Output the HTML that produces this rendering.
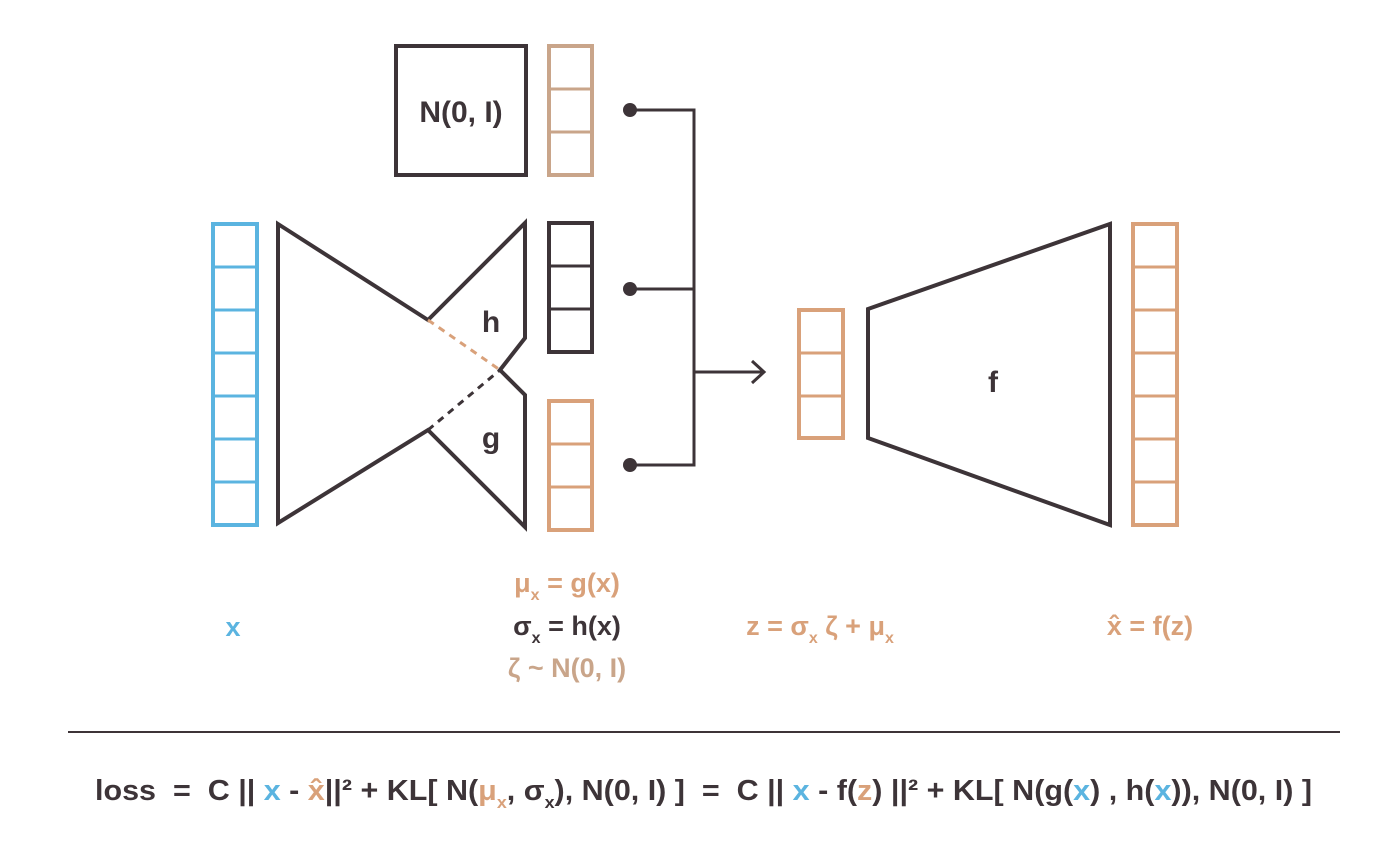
<!DOCTYPE html>
<html><head><meta charset="utf-8"><style>
html,body{margin:0;padding:0;background:#fff}
svg{display:block}
text{font-family:"Liberation Sans",sans-serif;font-weight:bold;white-space:pre}
</style></head><body>
<svg width="1400" height="843" viewBox="0 0 1400 843">
<g fill="none" stroke-width="4">
<g stroke="#5bb4e0">
<rect x="213" y="224" width="44" height="301"/>
<path d="M213 267H257M213 310H257M213 353H257M213 396H257M213 439H257M213 482H257" stroke-width="3"/>
</g>
<polygon stroke="#3d3438" points="278,224 428,320 525,223 525,338 500,370 525,395 525,527 428,430 278,523"/>
<line x1="428" y1="320" x2="500" y2="370" stroke="#d9a17a" stroke-dasharray="7,6" stroke-width="3"/>
<line x1="428" y1="430" x2="500" y2="370" stroke="#3d3438" stroke-dasharray="7,6" stroke-width="3"/>
<rect x="396" y="46" width="130" height="129" stroke="#3d3438"/>
<g stroke="#c9a58a">
<rect x="549" y="46" width="43" height="129"/>
<path d="M549 89H592M549 132H592" stroke-width="3"/>
</g>
<g stroke="#3d3438">
<rect x="549" y="223" width="43" height="129"/>
<path d="M549 266H592M549 309H592" stroke-width="3"/>
</g>
<g stroke="#d9a17a">
<rect x="549" y="401" width="43" height="129"/>
<path d="M549 444H592M549 487H592" stroke-width="3"/>
</g>
<g stroke="#3d3438" stroke-width="3">
<path d="M630 110H694V465H630M630 289H694M694 372H763M752 361L764 372L752 383"/>
</g>
<g stroke="#d9a17a">
<rect x="799" y="310" width="44" height="128"/>
<path d="M799 353H843M799 396H843" stroke-width="3"/>
</g>
<polygon stroke="#3d3438" points="868,309 1110,224 1110,525 868,438"/>
<g stroke="#d9a17a">
<rect x="1133" y="224" width="44" height="301"/>
<path d="M1133 267H1177M1133 310H1177M1133 353H1177M1133 396H1177M1133 439H1177M1133 482H1177" stroke-width="3"/>
</g>
<line x1="68" y1="732" x2="1340" y2="732" stroke="#3d3438" stroke-width="2"/>
</g>
<g fill="#3d3438">
<circle cx="630" cy="110" r="7"/><circle cx="630" cy="289" r="7"/><circle cx="630" cy="465" r="7"/>
</g>
<g fill="#3d3438" font-size="30">
<text x="461" y="122" text-anchor="middle">N(0, I)</text>
<text x="491" y="332" text-anchor="middle">h</text>
<text x="491" y="448" text-anchor="middle">g</text>
<text x="993" y="392" text-anchor="middle">f</text>
</g>
<g font-size="27">
<text x="233" y="636" text-anchor="middle" fill="#5bb4e0">x</text>
<text x="567" y="592" text-anchor="middle" fill="#d9a17a">μ<tspan font-size="16" dy="8">x</tspan><tspan dy="-8"> = g(x)</tspan></text>
<text x="567" y="635" text-anchor="middle" fill="#3d3438">σ<tspan font-size="16" dy="8">x</tspan><tspan dy="-8"> = h(x)</tspan></text>
<text x="567" y="677" text-anchor="middle" fill="#c9a58a">ζ ~ N(0, I)</text>
<text x="820" y="635" text-anchor="middle" fill="#d9a17a">z = σ<tspan font-size="16" dy="8">x</tspan><tspan dy="-8"> ζ + μ</tspan><tspan font-size="16" dy="8">x</tspan></text>
<text x="1150" y="635" text-anchor="middle" fill="#d9a17a">x̂ = f(z)</text>
</g>
<text x="95" y="800" font-size="29" fill="#3d3438" textLength="1217" lengthAdjust="spacingAndGlyphs">loss  =  C || <tspan fill="#5bb4e0">x</tspan> - <tspan fill="#d9a17a">x̂</tspan>||² + KL[ N(<tspan fill="#d9a17a">μ<tspan font-size="17" dy="8">x</tspan></tspan><tspan dy="-8">, σ</tspan><tspan font-size="17" dy="8">x</tspan><tspan dy="-8">), N(0, I) ]  =  C || </tspan><tspan fill="#5bb4e0">x</tspan> - f(<tspan fill="#d9a17a">z</tspan>) ||² + KL[ N(g(<tspan fill="#5bb4e0">x</tspan>) , h(<tspan fill="#5bb4e0">x</tspan>)), N(0, I) ]</text>
</svg>
</body></html>
